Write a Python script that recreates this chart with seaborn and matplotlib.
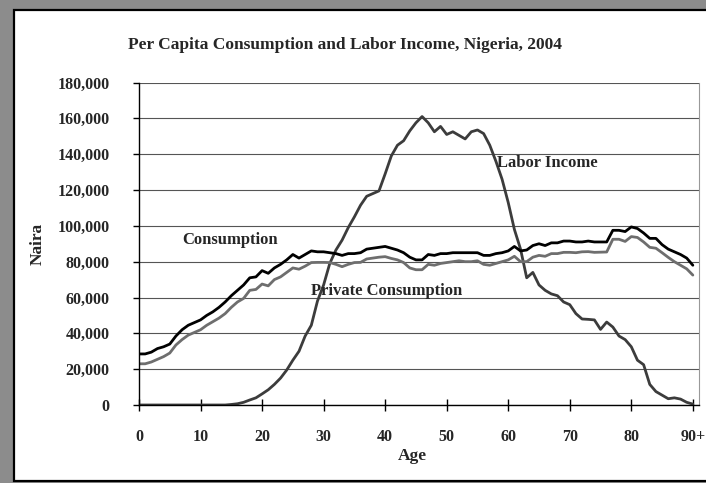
import matplotlib
matplotlib.use("Agg")
from matplotlib import pyplot as plt
from matplotlib.patches import Rectangle
from matplotlib.ticker import FuncFormatter
import numpy as np
import pandas as pd
import seaborn as sns

# ages 0..90 (90 = 90+)
ages = list(range(0, 91))

consumption = [28500, 28500, 29500, 31500, 32500, 34000, 38500, 42000, 44500, 46000,
               47500, 50000, 52000, 54500, 57500, 61000, 64000, 67000, 71000, 71500,
               75000, 73500, 76500, 78500, 81000, 84000, 82000, 84000, 86000, 85500,
               85500, 85000, 84500, 83500, 84500, 84500, 85000, 87000, 87500, 88000,
               88500, 87500, 86500, 85000, 82500, 81000, 81000, 84000, 83500, 84500,
               84500, 85000, 85000, 85000, 85000, 85000, 83500, 83500, 84500, 85000,
               86000, 88500, 86000, 86500, 89000, 90000, 89000, 90500, 90500, 91500,
               91500, 91000, 91000, 91500, 91000, 91000, 91000, 97500, 97500, 96800,
               99400, 98500, 96000, 93000, 93000, 89500, 87000, 85500, 84000, 82000,
               78000]

private_consumption = [23000, 23000, 24000, 25500, 27000, 29000, 33500, 36500, 39000, 40500,
                       42000, 44500, 46500, 48500, 51000, 54500, 57500, 59500, 64000, 64500,
                       67500, 66500, 70000, 71500, 74000, 76500, 75800, 77500, 79500, 79600,
                       79600, 79500, 78500, 77200, 78500, 79500, 79600, 81500, 82000, 82500,
                       82800, 81800, 81000, 79500, 76500, 75500, 75500, 78500, 78000, 79000,
                       79500, 80000, 80500, 80000, 80000, 80500, 78500, 78000, 79000, 80000,
                       81000, 83000, 80000, 80000, 82500, 83500, 83000, 84500, 84500, 85200,
                       85200, 85000, 85500, 85600, 85200, 85300, 85400, 92500, 92500, 91300,
                       94000, 93500, 91000, 88000, 87500, 85000, 82400, 80000, 78000, 76000,
                       72500]

labor_income = [0, 0, 0, 0, 0, 0, 0, 0, 0, 0,
                0, 0, 0, 0, 0, 300, 700, 1500, 2800, 4000,
                6200, 8500, 11500, 15000, 19500, 25000, 30000, 38500, 44500, 58000,
                67000, 79000, 86500, 92000, 99000, 105000, 111500, 116500, 118000, 119500,
                129000, 139000, 145000, 147500, 153000, 157500, 161000, 157500, 152500, 155500,
                151000, 152500, 150500, 148500, 152500, 153500, 151500, 145000, 136000, 126000,
                113000, 98000, 87000, 71000, 74000, 67000, 64000, 62000, 61000, 57500,
                56000, 51000, 48000, 47800, 47500, 42200, 46300, 43500, 38500, 36500,
                32500, 25000, 22500, 11500, 7500, 5500, 3500, 4000, 3300, 1500,
                500]

x_ticks = [0, 10, 20, 30, 40, 50, 60, 70, 80, 90]
x_tick_labels = ["0", "10", "20", "30", "40", "50", "60", "70", "80", "90+"]

df = pd.DataFrame({"Age": ages,
                   "Consumption": consumption,
                   "Private Consumption": private_consumption,
                   "Labor Income": labor_income})

sns.set_style("white")
plt.rcParams['font.family'] = ['Liberation Serif', 'DejaVu Serif']
plt.rcParams['font.weight'] = 'bold'

fig = plt.figure(figsize=(7.06, 4.83), dpi=100, facecolor='#8c8c8c')
# white panel with black frame
fig.patches.append(Rectangle((14 / 706, 2.5 / 483), 1.0, 470.5 / 483,
                             transform=fig.transFigure, facecolor='white',
                             edgecolor='black', linewidth=1.6, zorder=-5))

ax = fig.add_axes([139 / 706, 1 - 405 / 483, 560 / 706, 322.5 / 483])
ax.set_facecolor('white')

sns.lineplot(data=df, x="Age", y="Labor Income", ax=ax, color='#3c3c3c', linewidth=2.0)
sns.lineplot(data=df, x="Age", y="Private Consumption", ax=ax, color='#6e6e6e', linewidth=2.0)
sns.lineplot(data=df, x="Age", y="Consumption", ax=ax, color='black', linewidth=2.0)

ax.set_xlim(0, 91)
ax.set_ylim(0, 180000)
ax.set_yticks(np.arange(0, 180001, 20000))
ax.yaxis.set_major_formatter(FuncFormatter(lambda v, p: f"{int(v):,}"))
ax.set_xticks(x_ticks)
ax.set_xticklabels(x_tick_labels)

ax.grid(axis='y', color='#555555', linewidth=0.8)
ax.set_axisbelow(True)
ax.spines['top'].set_visible(False)
ax.spines['right'].set_color('#999999')
ax.spines['right'].set_linewidth(0.8)
ax.spines['left'].set_color('black')
ax.spines['bottom'].set_color('black')
ax.spines['left'].set_linewidth(1.0)
ax.spines['bottom'].set_linewidth(1.0)

ax.tick_params(axis='y', direction='out', length=4, width=1, color='black',
               pad=17, labelsize=11.5, left=True)
ax.tick_params(axis='x', direction='inout', length=8, width=1, color='black',
               pad=13, labelsize=11.5, bottom=True)
for lab in ax.get_xticklabels() + ax.get_yticklabels():
    lab.set_fontweight('bold')

ax.set_xlabel("Age", fontsize=12.5, fontweight='bold')
ax.set_ylabel("Naira", fontsize=12.5, fontweight='bold')
ax.xaxis.set_label_coords(0.4875, -0.133)
ax.yaxis.set_label_coords(-0.166, 0.5)

ax.text(7.1, 92000, "Consumption", fontsize=12, fontweight='bold', va='center')
ax.text(27.9, 63600, "Private Consumption", fontsize=12, fontweight='bold', va='center')
ax.text(58.2, 135000, "Labor Income", fontsize=12, fontweight='bold', va='center')

fig.text(345 / 706, 1 - 45 / 483, "Per Capita Consumption and Labor Income, Nigeria, 2004",
         ha='center', va='center', fontsize=12.5, fontweight='bold')

fig.savefig("out.png", dpi=100, facecolor=fig.get_facecolor())
